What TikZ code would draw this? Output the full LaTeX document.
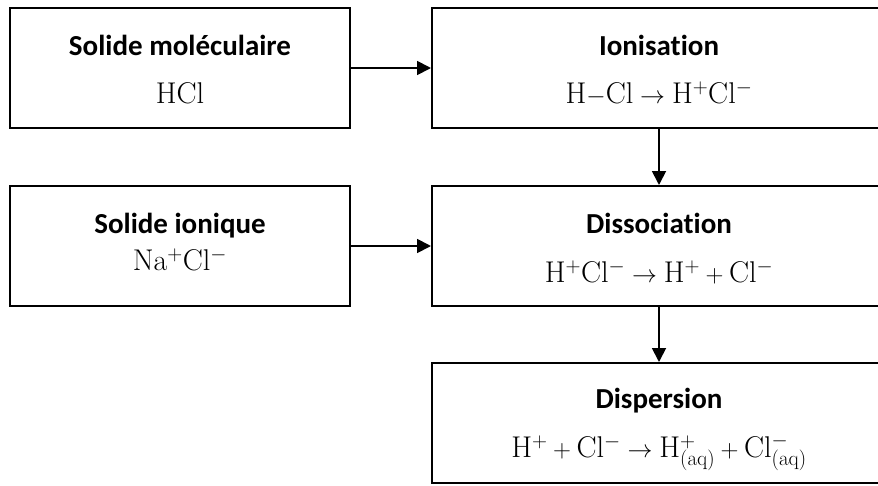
\documentclass[tikz,border=0pt]{standalone}
\usepackage{fontspec}
\newfontfamily\headfont[Ligatures=NoCommon]{Carlito}
\usetikzlibrary{arrows.meta}
\begin{document}
\begin{tikzpicture}[x=1pt,y=-1pt,
  boxstyle/.style={draw=black,line width=2pt,inner sep=0pt},
  headstyle/.style={anchor=base,inner sep=0pt,font=\headfont\bfseries\fontsize{29}{34}\selectfont},
  formstyle/.style={anchor=base,inner sep=0pt,font=\fontsize{30}{35}\selectfont},
  conn/.style={line width=1.8pt,-{Triangle[length=14pt,width=14pt]}}]
\useasboundingbox (0,0) rectangle (878,485);
\clip (0,0) rectangle (878,485);
% boxes
\node[boxstyle,minimum width=340pt,minimum height=120pt] (b1) at (180,68) {};
\node[boxstyle,minimum width=340pt,minimum height=120pt] (b2) at (180,246) {};
\node[boxstyle,minimum width=454pt,minimum height=120pt] (b3) at (659,68) {};
\node[boxstyle,minimum width=454pt,minimum height=120pt] (b4) at (659,246) {};
\node[boxstyle,minimum width=454pt,minimum height=120pt] (b5) at (659,423) {};
% texts
\node[headstyle] (t1) at (180,55) {Solide moléculaire};
\node[formstyle] (f1) at (180,103) {$\mathrm{HCl}$};
\node[headstyle] (t2) at (180,233) {Solide ionique};
\node[formstyle] (f2) at (180,270) {$\mathrm{Na^{+}Cl^{-}}$};
\node[headstyle] (t3) at (659,55) {Ionisation};
\node[formstyle] (f3) at (659,103) {$\mathrm{H}\mathord{-}\mathrm{Cl}\rightarrow\mathrm{H^{+}Cl^{-}}$};
\node[headstyle] (t4) at (659,233) {Dissociation};
\node[formstyle] (f4) at (659,282) {$\mathrm{H^{+}Cl^{-}}\rightarrow\mathrm{H^{+}}+\mathrm{Cl^{-}}$};
\node[headstyle] (t5) at (659,408) {Dispersion};
\node[formstyle] (f5) at (659,457) {$\mathrm{H^{+}}+\mathrm{Cl^{-}}\rightarrow\mathrm{H^{+}_{(aq)}}+\mathrm{Cl^{-}_{(aq)}}$};
% connectors
\draw[conn] (b1) -- (b3);
\draw[conn] (b2) -- (b4);
\draw[conn] (b3) -- (b4);
\draw[conn] (b4) -- (b5);
\end{tikzpicture}
\end{document}
